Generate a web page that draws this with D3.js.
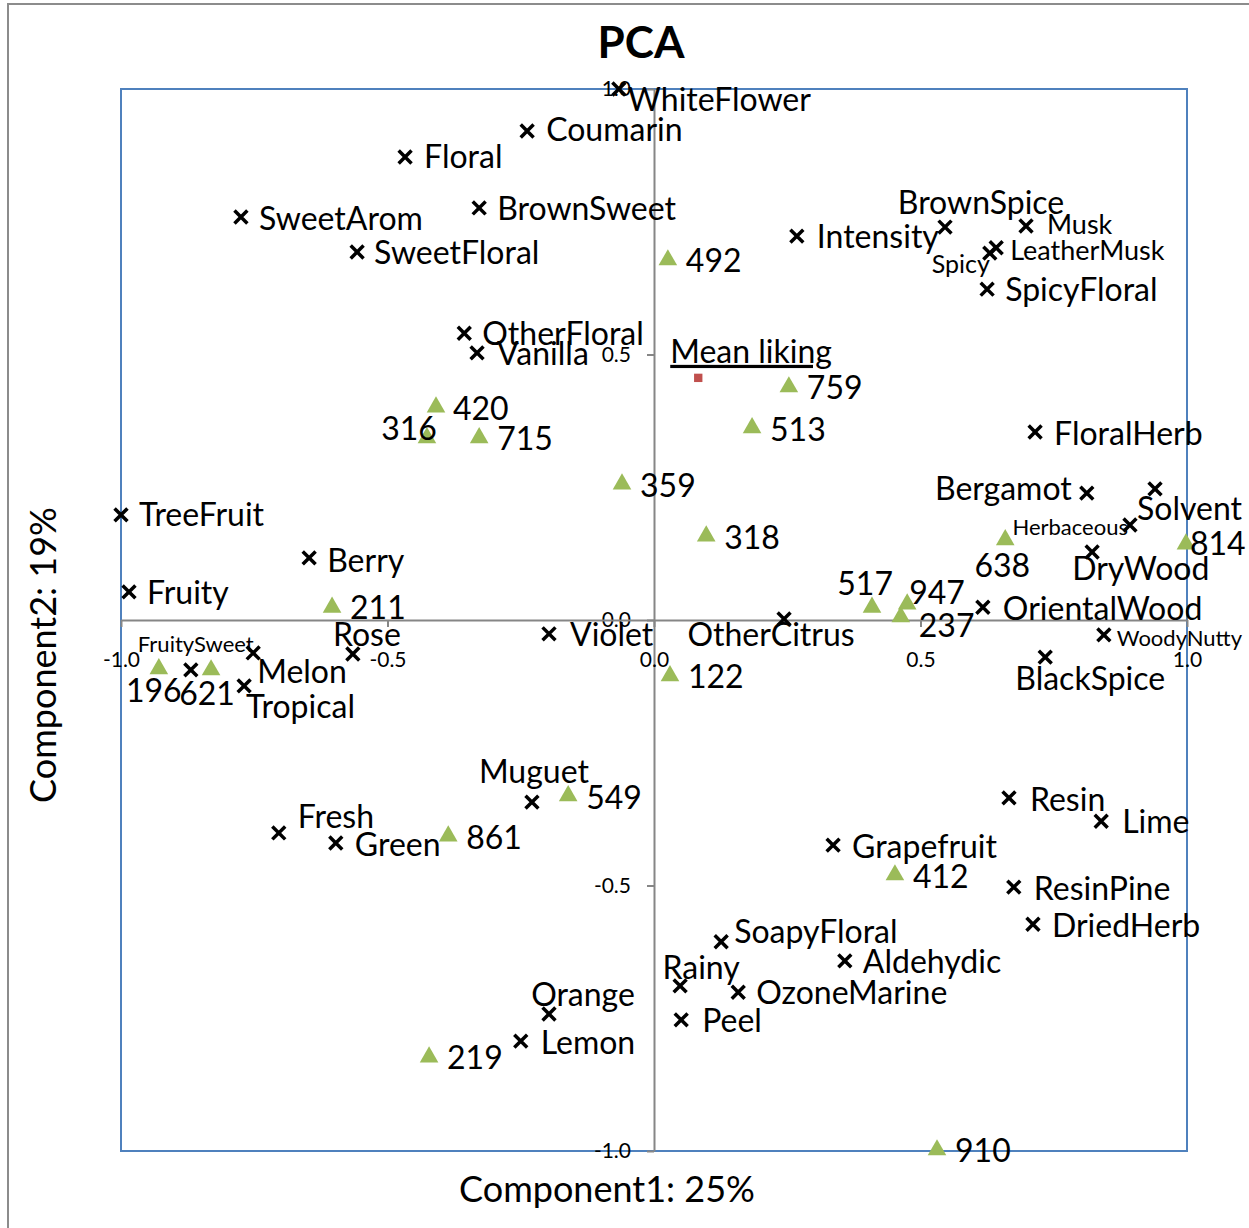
<!DOCTYPE html>
<html>
<head>
<meta charset="utf-8">
<script src="https://cdn.jsdelivr.net/npm/d3@7"></script>
<style>
  html, body { margin: 0; padding: 0; background: #fff; }
  svg text { font-family: Lato, "Noto Sans", sans-serif; fill: #000; }
</style>
</head>
<body>
<svg id="chart" width="1249" height="1228"></svg>
<script>
// ---------------- DATA ----------------
const attributeNames = ["WhiteFlower","Coumarin","Floral","SweetArom","BrownSweet","SweetFloral","Intensity",
  "BrownSpice","Musk","LeatherMusk","Spicy","SpicyFloral","OtherFloral","Vanilla","FloralHerb","Bergamot",
  "Solvent","Herbaceous","DryWood","OrientalWood","WoodyNutty","BlackSpice","OtherCitrus","Violet",
  "TreeFruit","Berry","Fruity","Rose","FruitySweet","Melon","Tropical","Fresh","Green","Muguet",
  "Grapefruit","Resin","Lime","ResinPine","DriedHerb","SoapyFloral","Aldehydic","Rainy","OzoneMarine",
  "Peel","Orange","Lemon"];
const attributeX = [-0.066,-0.238,-0.467,-0.775,-0.328,-0.557,0.268,
  0.546,0.698,0.642,0.630,0.625,-0.356,-0.332,0.715,0.812,
  0.940,0.893,0.822,0.617,0.844,0.734,0.244,-0.197,
  -1.000,-0.647,-0.985,-0.565,-0.869,-0.752,-0.769,-0.704,-0.597,-0.229,
  0.336,0.666,0.839,0.675,0.711,0.126,0.358,0.049,0.158,
  0.051,-0.197,-0.250];
const attributeY = [1.000,0.921,0.872,0.759,0.776,0.693,0.723,
  0.740,0.742,0.701,0.691,0.623,0.540,0.503,0.354,0.239,
  0.247,0.179,0.128,0.024,-0.028,-0.070,0.002,-0.026,
  0.198,0.117,0.053,-0.064,-0.094,-0.062,-0.124,-0.401,-0.420,-0.343,
  -0.424,-0.335,-0.379,-0.503,-0.573,-0.606,-0.642,-0.689,-0.701,
  -0.753,-0.742,-0.793];

const sampleNames = ["492","759","513","420","316","715","359","318","638","814","517","947","237",
  "211","196","621","122","549","861","412","219","910"];
const sampleX = [0.026,0.253,0.184,-0.409,-0.426,-0.328,-0.060,0.098,0.659,0.998,0.409,0.475,0.463,
  -0.604,-0.929,-0.831,0.030,-0.161,-0.386,0.452,-0.422,0.531];
const sampleY = [0.678,0.439,0.362,0.401,0.343,0.343,0.256,0.158,0.151,0.143,0.024,0.030,0.006,
  0.024,-0.092,-0.094,-0.105,-0.331,-0.407,-0.480,-0.823,-0.998];

const meanLikingNames = ["Mean liking"];
const meanLikingX = [0.083];
const meanLikingY = [0.456];

const tickValues = [-1.0, -0.5, 0.0, 0.5, 1.0];
const titleText = "PCA";
const xTitle = "Component1: 25%";
const yTitle = "Component2: 19%";

// ---------------- LABEL LAYOUT (placement only) ----------------
// [dx, dy, anchor, fontSize]
const labelLayout = {
  WhiteFlower:[9,22,"start",32], Coumarin:[19,10,"start",32], Floral:[19,11,"start",32],
  SweetArom:[18,13,"start",32], BrownSweet:[18,12,"start",32], SweetFloral:[17,12,"start",32],
  Intensity:[20,12,"start",32], BrownSpice:[36,-13,"middle",32], Musk:[21,8,"start",27],
  LeatherMusk:[14,12,"start",27], Spicy:[0,20,"end",25], SpicyFloral:[18,12,"start",32],
  OtherFloral:[18,12,"start",32], Vanilla:[20,12,"start",32], FloralHerb:[19,13,"start",32],
  Bergamot:[-15,7,"end",32], Solvent:[-18,31,"start",32], Herbaceous:[-2,10,"end",22],
  DryWood:[-20,28,"start",32], OrientalWood:[20,13,"start",32], WoodyNutty:[13,11,"start",22],
  BlackSpice:[45,33,"middle",32], OtherCitrus:[-13,27,"middle",32], Violet:[21,12,"start",32],
  TreeFruit:[18,11,"start",32], Berry:[18,14,"start",32], Fruity:[18,12,"start",32],
  Rose:[14,-8,"middle",32], FruitySweet:[5,-18,"middle",22], Melon:[4,30,"start",32],
  Tropical:[2,32,"start",32], Fresh:[19,-5,"start",32], Green:[19,13,"start",32],
  Muguet:[2,-19,"middle",32], Grapefruit:[19,13,"start",32], Resin:[21,13,"start",32],
  Lime:[21,12,"start",32], ResinPine:[20,13,"start",32], DriedHerb:[19,13,"start",32],
  SoapyFloral:[13,1,"start",32], Aldehydic:[18,12,"start",32], Rainy:[21,-7,"middle",32],
  OzoneMarine:[18,12,"start",32], Peel:[21,12,"start",32], Orange:[34,-8,"middle",32],
  Lemon:[20,13,"start",32],
  "492":[18,12,"start",32], "759":[18,12,"start",32], "513":[18,13,"start",32],
  "420":[17,13,"start",32], "316":[10,2,"end",32], "715":[18,12,"start",32],
  "359":[18,13,"start",32], "318":[18,13,"start",32], "638":[-3,37,"middle",32],
  "814":[4,11,"start",32], "517":[21,-12,"end",32], "947":[2,0,"start",32],
  "237":[18,20,"start",32], "211":[18,12,"start",32], "196":[-5,33,"middle",32],
  "621":[-4,35,"middle",32], "122":[18,12,"start",32], "549":[18,13,"start",32],
  "861":[18,13,"start",32], "412":[18,13,"start",32], "219":[18,12,"start",32],
  "910":[18,12,"start",32],
  "Mean liking":[-28,-15,"start",32]
};

// ---------------- DRAWING ----------------
const svg = d3.select("#chart");
const plot = {left:121, right:1187, top:89, bottom:1151};

const x = d3.scaleLinear().domain([-1, 1]).range([plot.left, plot.right]);
const y = d3.scaleLinear().domain([-1, 1]).range([plot.bottom, plot.top]);

// outer chart frame
svg.append("rect").attr("x", 8).attr("y", 4).attr("width", 1260).attr("height", 1240)
  .attr("fill", "#fff").attr("stroke", "#8c8c8c").attr("stroke-width", 2);

// plot area border
svg.append("rect").attr("x", plot.left).attr("y", plot.top)
  .attr("width", plot.right - plot.left).attr("height", plot.bottom - plot.top)
  .attr("fill", "none").attr("stroke", "#4F81BD").attr("stroke-width", 2);

const fmt = d => d.toFixed(1);

// y axis through x = 0
const yAxis = svg.append("g").attr("transform", `translate(${x(0)},0)`)
  .call(d3.axisLeft(y).tickValues(tickValues).tickFormat(fmt).tickSizeInner(7).tickSizeOuter(0).tickPadding(16));
// x axis through y = 0
const xAxis = svg.append("g").attr("transform", `translate(0,${y(0)})`)
  .call(d3.axisBottom(x).tickValues(tickValues).tickFormat(fmt).tickSizeInner(7).tickSizeOuter(0).tickPadding(25));
[xAxis, yAxis].forEach(g => {
  g.select(".domain").attr("stroke", "#868686").attr("stroke-width", 2);
  g.selectAll(".tick line").attr("stroke", "#868686").attr("stroke-width", 2);
  g.selectAll(".tick text").style("font-family", "Lato, sans-serif").style("font-size", "21px").attr("fill", "#000");
});

// attributes (x markers)
const attributes = attributeNames.map((n, i) => ({name:n, x:attributeX[i], y:attributeY[i]}));
const samples = sampleNames.map((n, i) => ({name:n, x:sampleX[i], y:sampleY[i]}));
const means = meanLikingNames.map((n, i) => ({name:n, x:meanLikingX[i], y:meanLikingY[i]}));

const timesSym = d3.symbol().type(d3.symbolTimes || d3.symbolX).size(110);
svg.append("g").selectAll("path").data(attributes).join("path")
  .attr("transform", d => `translate(${x(d.x)},${y(d.y)})`)
  .attr("d", timesSym).attr("fill", "none").attr("stroke", "#000").attr("stroke-width", 3.5);

const triSym = d3.symbol().type(d3.symbolTriangle).size(150);
svg.append("g").selectAll("path").data(samples).join("path")
  .attr("transform", d => `translate(${x(d.x)},${y(d.y)})`)
  .attr("d", triSym).attr("fill", "#9BBB59");

const sqSym = d3.symbol().type(d3.symbolSquare).size(70);
svg.append("g").selectAll("path").data(means).join("path")
  .attr("transform", d => `translate(${x(d.x)},${y(d.y)})`)
  .attr("d", sqSym).attr("fill", "#C0504D");

// labels
function drawLabels(data, underline) {
  svg.append("g").selectAll("text").data(data).join("text")
    .attr("x", d => x(d.x) + labelLayout[d.name][0])
    .attr("y", d => y(d.y) + labelLayout[d.name][1])
    .attr("text-anchor", d => labelLayout[d.name][2])
    .style("font-size", d => labelLayout[d.name][3] + "px")
    .style("text-decoration", underline ? "underline" : null)
    .text(d => d.name);
}
drawLabels(attributes, false);
drawLabels(samples, false);
drawLabels(means, true);

// titles
svg.append("text").attr("x", 641).attr("y", 58).attr("text-anchor", "middle")
  .style("font-size", "44px").style("font-weight", "bold").text(titleText);
svg.append("text").attr("x", 607).attr("y", 1202).attr("text-anchor", "middle")
  .style("font-size", "36px").text(xTitle);
svg.append("text").attr("transform", "translate(56,655) rotate(-90)").attr("text-anchor", "middle")
  .style("font-size", "36px").text(yTitle);
</script>
</body>
</html>
